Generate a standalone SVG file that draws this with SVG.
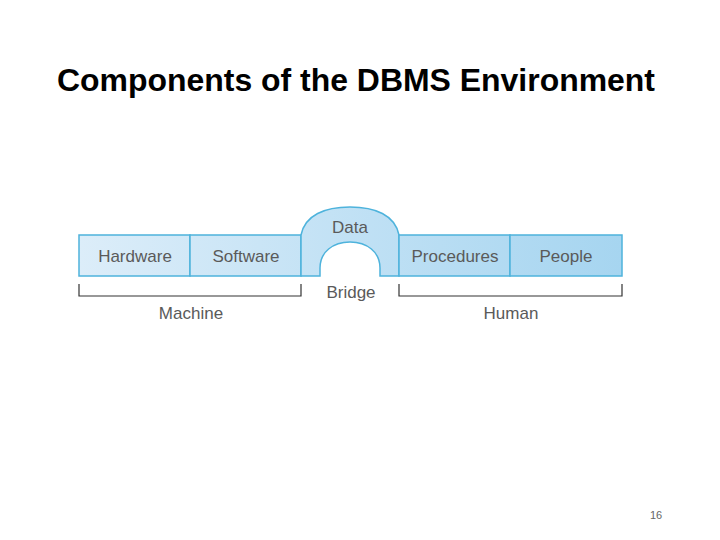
<svg xmlns="http://www.w3.org/2000/svg" width="720" height="540" viewBox="0 0 720 540">
<style>
.lbl{font-family:"Liberation Sans",Arial,sans-serif;font-size:17px;fill:#5a5a5a;text-anchor:middle}
.box{stroke:#4eb3dc;stroke-width:1.5}
.br{fill:none;stroke:#333;stroke-width:1.2}
</style>
<defs>
<linearGradient id="g" x1="79" y1="0" x2="622" y2="0" gradientUnits="userSpaceOnUse">
<stop offset="0" stop-color="#dcedf9"/>
<stop offset="1" stop-color="#a6d5f0"/>
</linearGradient>
</defs>
<rect width="720" height="540" fill="#fff"/>
<text x="356" y="91" font-family="Liberation Sans,Arial,sans-serif" font-size="31" font-weight="bold" text-anchor="middle" fill="#000" textLength="598" lengthAdjust="spacingAndGlyphs">Components of the DBMS Environment</text>
<g id="hardware"><rect class="box" x="79" y="235" width="111" height="41" fill="url(#g)"/><text class="lbl" x="135" y="262">Hardware</text></g>
<g id="software"><rect class="box" x="190" y="235" width="111" height="41" fill="url(#g)"/><text class="lbl" x="246" y="262">Software</text></g>
<g id="data"><path class="box" fill="url(#g)" d="M301,276 L301,235 C305,215 325,207 350,207 C375,207 395,215 399,235 L399,276 L380,276 L380,268 C380,252 367,242 350,242 C333,242 320,252 320,268 L320,276 Z"/><text class="lbl" x="350" y="233">Data</text></g>
<g id="procedures"><rect class="box" x="399" y="235" width="111" height="41" fill="url(#g)"/><text class="lbl" x="455" y="262">Procedures</text></g>
<g id="people"><rect class="box" x="510" y="235" width="112" height="41" fill="url(#g)"/><text class="lbl" x="566" y="262">People</text></g>
<g id="connectors">
<path class="br" d="M79,284 V296 H301 V284"/>
<path class="br" d="M399,284 V296 H622 V284"/>
</g>
<g id="labels">
<text class="lbl" x="351" y="298">Bridge</text>
<text class="lbl" x="191" y="319">Machine</text>
<text class="lbl" x="511" y="319">Human</text>
</g>
<text x="656" y="519" font-family="Liberation Sans,Arial,sans-serif" font-size="11" text-anchor="middle" fill="#666">16</text>
</svg>
